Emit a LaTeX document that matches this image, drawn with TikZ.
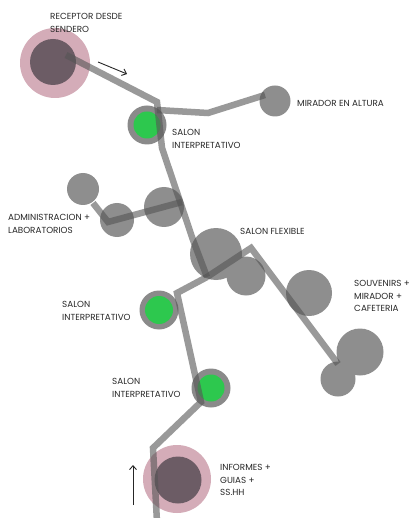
\documentclass[tikz,border=0pt]{standalone}
\usepackage{fontspec}
\setmainfont{Poppins}
\usetikzlibrary{arrows.meta}
\definecolor{pinkout}{RGB}{212,172,184}
\definecolor{pinkin}{RGB}{108,92,101}
\definecolor{ring}{RGB}{138,138,138}
\definecolor{greenin}{RGB}{45,200,78}
\definecolor{blob}{RGB}{142,142,142}
\definecolor{txt}{RGB}{40,40,40}
\definecolor{pathc}{RGB}{85,85,85}
\tikzset{
  blobc/.style={circle,fill=blob,draw=none,inner sep=0,minimum size=#1},
  ringc/.style={circle,fill=ring,draw=none,inner sep=0,minimum size=#1},
  greenc/.style={circle,fill=greenin,draw=none,inner sep=0,minimum size=#1},
  pinko/.style={circle,fill=pinkout,draw=none,inner sep=0,minimum size=#1},
  pinki/.style={circle,fill=pinkin,draw=none,inner sep=0,minimum size=#1},
  route/.style={draw=pathc,line width=6.5pt,opacity=0.6,line join=miter},
  lbl/.style={anchor=west,align=left,inner sep=0,text=txt,font=\fontsize{8.8}{12.8}\selectfont},
  flow/.style={draw=black!85,line width=0.9pt,-{Straight Barb[length=4pt,width=7pt]}}
}
\begin{document}
\begin{tikzpicture}[x=1pt,y=-1pt]
\useasboundingbox[fill=white] (0,0) rectangle (415,518);
% receptor
\node[pinko=70pt] (recO) at (55,63) {};
\node[pinki=46pt] (recI) at (53,62) {};
% mirador
\node[blobc=31pt] (mir) at (275,101) {};
% salon interpretativo 1
\node[ringc=39pt] (s1) at (147,125) {};
\node[greenc=27pt] (s1g) at (147,125) {};
% administracion
\node[blobc=32pt] (ad1) at (83,189) {};
\node[blobc=34pt] (ad2) at (117,220) {};
\node[blobc=40pt] (ad3) at (164,207) {};
% salon flexible
\node[blobc=52pt] (fl1) at (216,254) {};
\node[blobc=39pt] (fl2) at (246,276) {};
% souvenirs
\node[blobc=46pt] (sv1) at (309,293) {};
\node[blobc=47pt] (sv2) at (360,352) {};
\node[blobc=35pt] (sv3) at (338,379) {};
% salon interpretativo 2,3
\node[ringc=39pt] (s2) at (159,310) {};
\node[greenc=28pt] (s2g) at (159,310) {};
\node[ringc=39pt] (s3) at (211,388) {};
\node[greenc=27pt] (s3g) at (211,388) {};
% informes
\node[pinko=68pt] (infO) at (177,479) {};
\node[pinki=47pt] (infI) at (178,480) {};

% route points
\coordinate (r0) at (66,55);
\coordinate (j1) at (157,102);
\coordinate (k1) at (162,148);
\coordinate (k2) at (193,240);
\coordinate (j2) at (207,277);
\coordinate (m0) at (157,110);
\coordinate (m1) at (208,113);
\coordinate (m2) at (265,95);
\coordinate (a0) at (93,203);
\coordinate (a1) at (108,222);
\coordinate (a2) at (182,202);
\coordinate (f1) at (251,248);
\coordinate (f2) at (338,364);
\coordinate (d1) at (177,293);
\coordinate (d2) at (201,402);
\coordinate (d3) at (153,448);
\coordinate (d4) at (157,522);

\draw[route] (r0) -- (j1) -- (k1) -- (k2) -- (j2);
\draw[route] (m0) -- (m1) -- (m2);
\draw[route] (a0) -- (a1) -- (a2);
\draw[route] (j2) -- (f1) -- (f2);
\draw[route] (j2) -- (d1) -- (d2) -- (d3) -- (d4);

% flow arrows
\coordinate (t0) at (98,62);
\coordinate (t1) at (127,74);
\draw[flow] (t0) -- (t1);
\coordinate (b0) at (133,505);
\coordinate (b1) at (133,465);
\draw[flow] (b0) -- (b1);

% labels
\node[lbl] (lrec) at (50,23) {RECEPTOR DESDE\\SENDERO};
\node[lbl] (lmir) at (297,103) {MIRADOR EN ALTURA};
\node[lbl] (ls1) at (172,139) {SALON\\INTERPRETATIVO};
\node[lbl] (lad) at (8,224) {ADMINISTRACION +\\LABORATORIOS};
\node[lbl] (lfl) at (240,231) {SALON FLEXIBLE};
\node[lbl] (lsv) at (354,296) {SOUVENIRS +\\MIRADOR +\\CAFETERIA};
\node[lbl] (ls2) at (62,311) {SALON\\INTERPRETATIVO};
\node[lbl] (ls3) at (112,388) {SALON\\INTERPRETATIVO};
\node[lbl] (linf) at (220,480) {INFORMES +\\GUIAS +\\SS.HH};
\end{tikzpicture}
\end{document}
